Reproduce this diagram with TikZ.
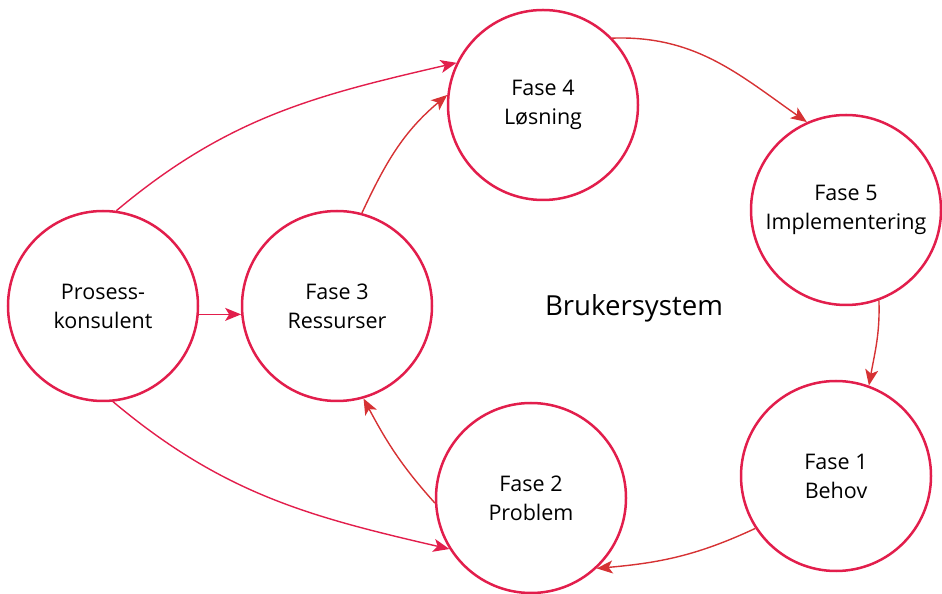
\documentclass[tikz,border=0pt]{standalone}
\usepackage{fontspec}
\setmainfont{Open Sans}
\usetikzlibrary{arrows.meta}
\definecolor{ringred}{RGB}{226,30,76}
\definecolor{flowred}{RGB}{214,50,52}
\begin{document}
\begin{tikzpicture}[
  phase/.style={draw=ringred, circle, line width=2.5bp, minimum size=190bp, inner sep=1pt, align=center, font=\fontsize{21.5bp}{29bp}\selectfont},
  flow/.style={line width=1.4bp, flowred, -{Stealth[length=16bp, width=13bp, inset=4bp]}},
  consult/.style={line width=1.4bp, ringred, -{Stealth[length=16bp, width=13bp, inset=4bp]}}]
  \useasboundingbox (0bp,0bp) rectangle (942bp,594bp);

  \node (pk) at (103bp,288bp) [phase] {Prosess-\\konsulent};
  \node (f3) at (337bp,288bp) [phase] {Fase 3\\Ressurser};
  \node (f4) at (543bp,489bp) [phase] {Fase 4\\Løsning};
  \node (f5) at (846bp,384bp) [phase] {Fase 5\\Implementering};
  \node (f1) at (836bp,118bp) [phase] {Fase 1\\Behov};
  \node (f2) at (531bp,96bp)  [phase] {Fase 2\\Problem};

  \node (bs) at (634bp,286bp) [font=\fontsize{27.6bp}{32bp}\selectfont] {Brukersystem};

  \draw (pk.82) to[out=40, in=193] (f4.154) [consult];
  \draw (pk.-84) to[out=-40, in=167] (f2.212) [consult];
  \draw (pk.-5) -- (f3.185) [consult];

  \draw (f2.183) to[out=132, in=-62] (f3.-74) [flow];
  \draw (f3.75) to[out=65, in=220] (f4.174) [flow];
  \draw (f4.44) to[out=2, in=145] (f5.114) [flow];
  \draw (f5.-70) to[out=-88, in=80] (f1.70) [flow];
  \draw (f1.213) to[out=205, in=5] (f2.-47) [flow];
\end{tikzpicture}
\end{document}
